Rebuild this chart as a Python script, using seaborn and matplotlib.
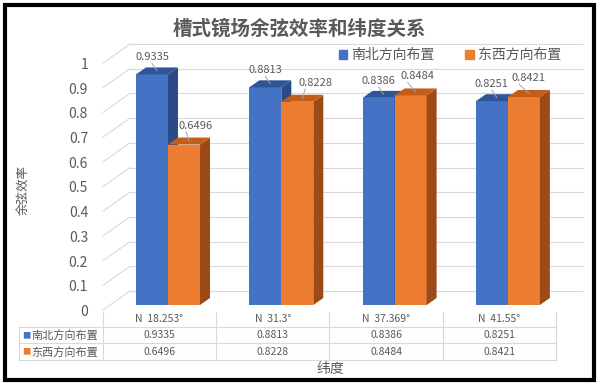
import matplotlib
matplotlib.use("Agg")
import numpy as np
import pandas as pd
import matplotlib.pyplot as plt
import seaborn as sns
from matplotlib.patches import Polygon, Rectangle, Patch

# 数据
categories = ["N  18.253°", "N  31.3°", "N  37.369°", "N  41.55°"]
series_names = ["南北方向布置", "东西方向布置"]
ns_eff = [0.9335, 0.8813, 0.8386, 0.8251]
ew_eff = [0.6496, 0.8228, 0.8484, 0.8421]
y_ticks = [0, 0.1, 0.2, 0.3, 0.4, 0.5, 0.6, 0.7, 0.8, 0.9, 1]

BLUE, ORANGE = "#4472C4", "#ED7D31"
BLUE_TOP, BLUE_SIDE = "#2F5597", "#2A4B86"
ORANGE_TOP, ORANGE_SIDE = "#C25E1C", "#9C4B18"
GRAY = "#595959"
GRID = "#D9D9D9"

sns.set_theme(style="white")
plt.rcParams["font.family"] = ["Noto Sans CJK SC", "DejaVu Sans"]

# 版面 (像素)
W, H = 600, 388
X0, XSTEP = 168, 113.3     # 第一组柱中心, 组间距
Y0, YSCALE = 305, 247      # 0 的位置, 每单位像素
DX, DY = 10 / XSTEP, 7 / YSCALE   # 立体深度
BACK = 14 / YSCALE


def px(x):
    return (x - X0) / XSTEP


def py(y):
    return (Y0 - y) / YSCALE


df = pd.DataFrame({
    "纬度": categories * 2,
    "余弦效率": ns_eff + ew_eff,
    "布置": [series_names[0]] * 4 + [series_names[1]] * 4,
})

fig = plt.figure(figsize=(W / 100, H / 100), dpi=100)
ax = fig.add_axes([(X0 - 0.5 * XSTEP) / W, (H - Y0) / H, 4 * XSTEP / W, YSCALE / H])

sns.barplot(data=df, x="纬度", y="余弦效率", hue="布置", order=categories,
            hue_order=series_names, palette=[BLUE, ORANGE], width=0.565, gap=0,
            saturation=1, errorbar=None, legend=False, linewidth=0, ax=ax)
ax.set_xlim(-0.5, 3.5)
ax.set_ylim(0, 1)
ax.axis("off")

# 立体柱: 顶面和侧面
bars = list(ax.patches)
for i, bar in enumerate(bars):
    is_ns = i < len(categories)
    z = 3 if is_ns else 4
    top_c, side_c = (BLUE_TOP, BLUE_SIDE) if is_ns else (ORANGE_TOP, ORANGE_SIDE)
    x, w, h = bar.get_x(), bar.get_width(), bar.get_height()
    bar.set_zorder(z)
    ax.add_patch(Polygon([(x + w, 0), (x + w + DX, DY), (x + w + DX, h + DY), (x + w, h)],
                         closed=True, fc=side_c, ec="none", zorder=z + 0.1))
    ax.add_patch(Polygon([(x, h), (x + w, h), (x + w + DX, h + DY), (x + DX, h + DY)],
                         closed=True, fc=top_c, ec="none", zorder=z + 0.1))
    # 数据标签
    cx = x + w / 2
    if is_ns:
        lx, ly = cx, h + 17 / YSCALE
    else:
        lx, ly = cx + [12, 18, 7, 5][i - len(categories)] / XSTEP, h + 19 / YSCALE
    ax.plot([cx + DX / 2, lx - (0 if is_ns else 10 / XSTEP)], [h + DY / 2, ly - 6 / YSCALE],
            color="#A6A6A6", lw=0.7, zorder=6, clip_on=False)
    ax.text(lx, ly, f"{h:.4f}", ha="center", va="center", fontsize=8, color=GRAY,
            zorder=7, clip_on=False)

# 背景墙网格线和侧墙
for v in y_ticks:
    ax.plot([px(130), px(583)], [v + BACK, v + BACK], color=GRID, lw=0.8, zorder=0.5, clip_on=False)
    ax.plot([px(103), px(130)], [v - 5 / YSCALE, v + BACK], color=GRID, lw=0.8, zorder=0.5, clip_on=False)
    ax.text(px(88), v - 7 / YSCALE, f"{v:g}", ha="right", va="center", fontsize=10,
            color=GRAY, clip_on=False)

# 数据表
edges = [k - 0.5 - 8.5 / XSTEP for k in range(len(categories) + 1)]
for e in edges:
    ax.plot([e, e], [py(312), py(360)], color=GRID, lw=0.8, clip_on=False)
ax.plot([px(19), px(19)], [py(327), py(360)], color=GRID, lw=0.8, clip_on=False)
for yy in [327, 343, 360]:
    ax.plot([px(19), edges[-1]], [py(yy), py(yy)], color=GRID, lw=0.8, clip_on=False)

for k, cat in enumerate(categories):
    cxk = (edges[k] + edges[k + 1]) / 2
    ax.text(cxk, py(319.5), cat, ha="center", va="center", fontsize=7.5, color=GRAY, clip_on=False)
    ax.text(cxk, py(335.5), f"{ns_eff[k]:.4f}", ha="center", va="center", fontsize=7.5, color=GRAY, clip_on=False)
    ax.text(cxk, py(352), f"{ew_eff[k]:.4f}", ha="center", va="center", fontsize=7.5, color=GRAY, clip_on=False)

for name, col, yy in [(series_names[0], BLUE, 335.5), (series_names[1], ORANGE, 352)]:
    ax.text(px(22), py(yy), "■", ha="left", va="center", fontsize=6, color=col, clip_on=False)
    ax.text(px(31), py(yy), name, ha="left", va="center", fontsize=8, color=GRAY, clip_on=False)

# 图例
handles = [Patch(color=BLUE), Patch(color=ORANGE)]
ax.legend(handles, series_names, ncol=2, frameon=False, loc="center",
          bbox_to_anchor=(px(450), py(55)), bbox_transform=ax.transData,
          fontsize=10, handlelength=0.6, handleheight=0.6, handletextpad=0.3,
          columnspacing=2.2, labelcolor=GRAY)

fig.text(299 / W, 1 - 29 / H, "槽式镜场余弦效率和纬度关系", ha="center", va="center",
         fontsize=14, fontweight="bold", color=GRAY)
fig.text(24 / W, 1 - 190 / H, "余弦效率", rotation=90, ha="center", va="center",
         fontsize=9, color=GRAY)
fig.text(330 / W, 1 - 369 / H, "纬度", ha="center", va="center", fontsize=10, color=GRAY)

# 外框
fig.patches.append(Rectangle((5 / W, 1 - 380 / H), 589 / W, 375 / H, transform=fig.transFigure,
                             fill=False, lw=3, ec="black"))

fig.savefig("out.png", dpi=100)
